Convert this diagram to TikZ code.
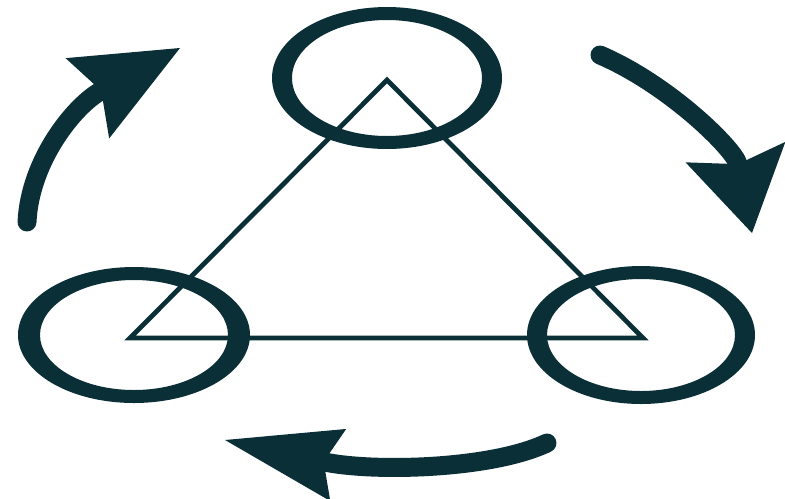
\documentclass[tikz,border=0pt]{standalone}
\usetikzlibrary{arrows.meta,positioning,calc}
\definecolor{ink}{HTML}{0B2F37}
\tikzset{
 ring/.style={fill=ink,even odd rule},
 edge/.style={draw=ink,line width=2.7pt,line join=miter},
 turn/.style={draw=ink,line width=10.8pt,line cap=round}
}

\begin{document}
\begin{tikzpicture}[x=0.02cm,y=-0.02cm]
\useasboundingbox (0,0) rectangle (785,498);
\coordinate (apex) at (387,80);
\coordinate (lft) at (130,338);
\coordinate (rgt) at (643,338);
\draw[edge] (apex)--(lft)--(rgt)--cycle;
\fill[ring] ($(apex)+(0,-2)$) ellipse [x radius=115,y radius=71]
            ($(apex)+(0,-2)$) ellipse [x radius=95,y radius=58];
\fill[ring] ($(lft)+(4,-3)$) ellipse [x radius=116,y radius=68]
            ($(lft)+(4,-3)$) ellipse [x radius=94,y radius=55];
\fill[ring] ($(rgt)+(-2,-3)$) ellipse [x radius=114,y radius=69]
            ($(rgt)+(-2,-3)$) ellipse [x radius=94,y radius=56];
\coordinate (a1) at (27,222);
\coordinate (b1) at (180,48);
\coordinate (a2) at (600,55);
\coordinate (b2) at (752,233);
\coordinate (a3) at (547,443);
\coordinate (b3) at (225,440);
\draw[turn,-{Stealth[length=60pt,width=52pt,inset=9pt,line width=0pt]}]
  (a1) .. controls (30,160) and (75,105) .. (b1);
\draw[turn,-{Stealth[length=47pt,width=58pt,inset=7pt,line width=0pt]}]
  (a2) .. controls (670,85) and (735,150) .. (b2);
\draw[turn,-{Stealth[length=66pt,width=42pt,inset=8.5pt,line width=0pt]}]
  (a3) .. controls (490,470) and (370,472) .. (b3);
\end{tikzpicture}
\end{document}
